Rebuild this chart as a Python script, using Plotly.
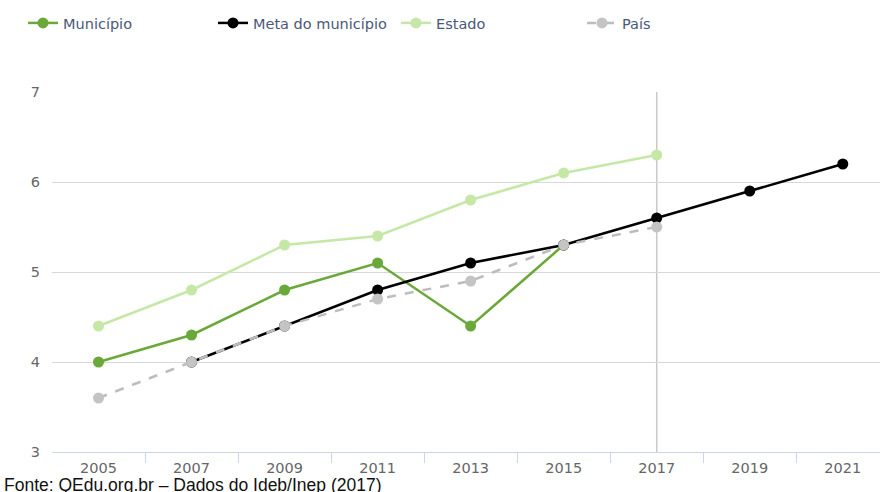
import plotly.graph_objects as go

years = [2005, 2007, 2009, 2011, 2013, 2015, 2017, 2019, 2021]
municipio_years = [2005, 2007, 2009, 2011, 2013, 2015]
municipio = [4.0, 4.3, 4.8, 5.1, 4.4, 5.3]
meta_years = [2007, 2009, 2011, 2013, 2015, 2017, 2019, 2021]
meta = [4.0, 4.4, 4.8, 5.1, 5.3, 5.6, 5.9, 6.2]
estado_years = [2005, 2007, 2009, 2011, 2013, 2015, 2017]
estado = [4.4, 4.8, 5.3, 5.4, 5.8, 6.1, 6.3]
pais_years = [2005, 2007, 2009, 2011, 2013, 2015, 2017]
pais = [3.6, 4.0, 4.4, 4.7, 4.9, 5.3, 5.5]
y_ticks = [3, 4, 5, 6, 7]
source_text = "Fonte: QEdu.org.br – Dados do Ideb/Inep (2017)"

fig = go.Figure()
fig.add_trace(go.Scatter(x=municipio_years, y=municipio, name="Município", mode="lines+markers",
                         line=dict(color="#6aa83a", width=2.5), marker=dict(size=11, color="#6aa83a"),
                         legend="legend", showlegend=True))
fig.add_trace(go.Scatter(x=meta_years, y=meta, name="Meta do município", mode="lines+markers",
                         line=dict(color="#000000", width=2.5), marker=dict(size=11, color="#000000"),
                         legend="legend2", showlegend=True))
fig.add_trace(go.Scatter(x=estado_years, y=estado, name="Estado", mode="lines+markers",
                         line=dict(color="#c6e8a6", width=2.5), marker=dict(size=11, color="#c6e8a6"),
                         legend="legend3", showlegend=True))
fig.add_trace(go.Scatter(x=pais_years, y=pais, name="País", mode="lines+markers",
                         line=dict(color="#bdbdbd", width=2.5, dash="dash"), marker=dict(size=11, color="#c4c4c4"),
                         legend="legend4", showlegend=True))

fig.add_shape(type="line", x0=2017, x1=2017, y0=3, y1=7, xref="x", yref="y",
              line=dict(color="#c8c8c8", width=1.5), layer="below")

legfont = dict(family="DejaVu Sans", size=14.5, color="#4a5878")
def leg(xpix):
    return dict(x=xpix / 880, y=1 - 7 / 492, xref="container", yref="container",
                xanchor="left", yanchor="top", orientation="h", font=legfont,
                bgcolor="rgba(0,0,0,0)", visible=True)

fig.update_layout(
    width=880, height=492,
    showlegend=True,
    margin=dict(l=52, r=0, t=92, b=40, autoexpand=False),
    plot_bgcolor="white", paper_bgcolor="white",
    legend=leg(23), legend2=leg(213), legend3=leg(396), legend4=leg(582),
    xaxis=dict(range=[2004, 2021.8], tickvals=years, ticktext=[str(y) for y in years],
               showgrid=False, zeroline=False, showline=True, linecolor="#ccd6eb", linewidth=1,
               ticks="", ticklabelstandoff=3, automargin=False,
               tickfont=dict(family="DejaVu Sans", size=14.5, color="#666666"),
               minor=dict(tickvals=[2006, 2008, 2010, 2012, 2014, 2016, 2018, 2020],
                          ticks="outside", ticklen=10, tickcolor="#ccd6eb", showgrid=False)),
    yaxis=dict(range=[3, 7], tickvals=y_ticks, showgrid=True, gridcolor="#d8d8d8", gridwidth=1,
               zeroline=False, showline=False, ticks="outside", ticklen=8, tickcolor="rgba(0,0,0,0)",
               automargin=False,
               tickfont=dict(family="DejaVu Sans", size=14.5, color="#666666")),
)

fig.add_annotation(text=source_text, xref="paper", yref="paper", x=-52/828, y=0,
                   yshift=-33, xanchor="left", yanchor="middle", showarrow=False,
                   font=dict(family="Liberation Sans", size=17.5, color="#111111"), xshift=2)

fig.write_html("out.html", config={"displayModeBar": False},
               post_script="document.body.style.margin='0';document.body.style.padding='0';")
